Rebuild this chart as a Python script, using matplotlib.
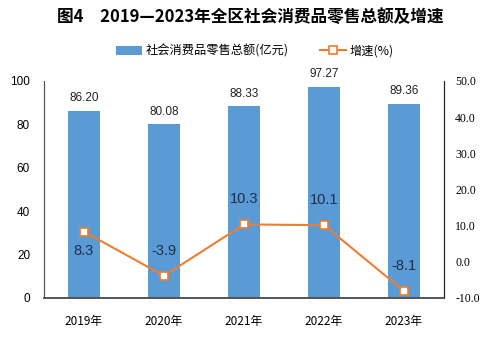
import matplotlib
matplotlib.use('Agg')
import matplotlib.pyplot as plt
import numpy as np

plt.rcParams['font.family'] = ['Noto Sans CJK SC', 'DejaVu Sans']

years = ['2019年', '2020年', '2021年', '2022年', '2023年']
sales = [86.20, 80.08, 88.33, 97.27, 89.36]
growth = [8.3, -3.9, 10.3, 10.1, -8.1]

BAR_COLOR = '#5B9BD5'
LINE_COLOR = '#ED7D31'
TEXT_COLOR = '#1F2D4D'

fig = plt.figure(figsize=(5, 3.4), dpi=100)
ax = fig.add_axes([0.088, 0.124, 0.80, 0.638])
ax2 = ax.twinx()

x = np.arange(len(years))
bars = ax.bar(x, sales, 0.4, color=BAR_COLOR, zorder=2, label='社会消费品零售总额(亿元)')
ax.set_xlim(-0.5, len(years) - 0.5)
ax.set_ylim(0, 100)
ax.set_yticks(range(0, 101, 20))
ax.set_xticks(x)
ax.set_xticklabels(years, fontsize=8.5, family=['Noto Sans CJK SC'])
ax.tick_params(axis='both', length=0, labelsize=8.5, pad=10)
ax.tick_params(axis='x', pad=12)
for lab in ax.get_yticklabels():
    lab.set_family(['Liberation Sans'])

for b, v in zip(bars, sales):
    ax.text(b.get_x() + b.get_width() / 2, v + 3, f'{v:.2f}',
            ha='center', va='bottom', fontsize=8.5, color='#222222',
            family=['Liberation Sans'])

line, = ax2.plot(x, growth, color=LINE_COLOR, lw=1.5, marker='s', ms=6,
                 mfc='white', mec=LINE_COLOR, mew=1.2, zorder=3, label='增速(%)')
ax2.set_ylim(-10, 50)
ax2.set_yticks(range(-10, 51, 10))
ax2.set_yticklabels([f'{t:.1f}' for t in range(-10, 51, 10)], family=['Liberation Serif'])
ax2.tick_params(axis='y', length=0, labelsize=8.5, pad=8)

# growth labels: first one sits below its marker, the rest above
for i, g in enumerate(growth):
    off = -14 if i == 0 else 18
    ax2.annotate(f'{g}', (x[i], g), xytext=(0, off), textcoords='offset points',
                 ha='center', va='center', fontsize=10.5, color=TEXT_COLOR,
                 family=['Liberation Sans'])

for a in (ax, ax2):
    a.spines['top'].set_visible(False)
    a.spines['left'].set_color('#555555')
    a.spines['right'].set_color('#222222')
    a.spines['bottom'].set_color('#555555')
    a.spines['bottom'].set_linewidth(1.2)
ax.set_zorder(ax2.get_zorder() - 1)
ax2.patch.set_visible(False)
ax.patch.set_visible(False)

fig.text(0.5, 0.95, '图4　2019—2023年全区社会消费品零售总额及增速',
         ha='center', va='center', fontsize=12, fontweight='bold')

fig.legend([bars, line], ['社会消费品零售总额(亿元)', '增速(%)'],
           loc='center', bbox_to_anchor=(0.51, 0.85), ncol=2, frameon=False,
           fontsize=8.8, handlelength=2.1, columnspacing=2.6, handletextpad=0.3)

fig.savefig('out.png', dpi=100)
